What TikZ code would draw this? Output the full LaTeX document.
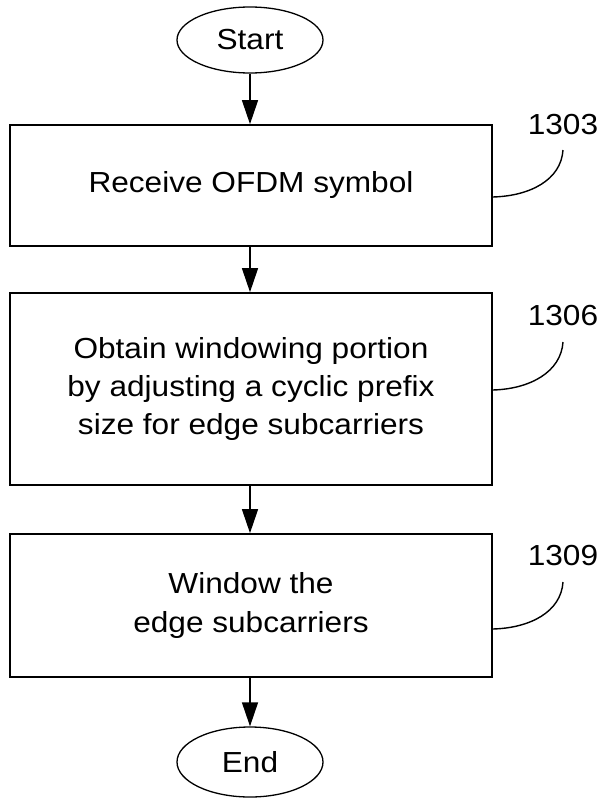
\documentclass[tikz,border=0pt]{standalone}
\usepackage{fontspec}
\setmainfont[FakeStretch=1.09]{Liberation Sans}
\usetikzlibrary{shapes.geometric,arrows.meta}
\begin{document}
\begin{tikzpicture}[x=1pt,y=-1pt,
  every node/.style={font=\fontsize{29}{38.3}\selectfont},
  stepbox/.style={draw,line width=1.7pt,minimum width=482pt,align=center,inner sep=0pt},
  term/.style={draw,ellipse,line width=1.3pt,minimum width=146pt,inner sep=0pt},
  flow/.style={line width=1.3pt,-{Triangle[length=24pt,width=16pt]}},
  leader/.style={line width=1.4pt},
  reflabel/.style={anchor=center}]
\useasboundingbox (0,0) rectangle (600,800);
\node[term,minimum height=66pt] (start) at (250,40) {Start};
\node[stepbox,minimum height=121pt] (b1) at (251,185.5) {Receive OFDM symbol};
\node[stepbox,minimum height=192pt] (b2) at (251,389) {\raisebox{-6pt}{\begin{tabular}{@{}c@{}}Obtain windowing portion\\by adjusting a cyclic prefix\\size for edge subcarriers\end{tabular}}};
\node[stepbox,minimum height=143pt] (b3) at (251,605.5) {Window the\\edge subcarriers};
\node[term,minimum height=70pt] (end) at (250,762) {End};
\draw[flow] (start) -- (start |- b1.north);
\draw[flow] (start |- b1.south) -- (start |- b2.north);
\draw[flow] (start |- b2.south) -- (start |- b3.north);
\draw[flow] (start |- b3.south) -- (end);
\node[reflabel] (l1) at (563,125) {1303};
\node[reflabel] (l2) at (563,316) {1306};
\node[reflabel] (l3) at (563,556) {1309};
\coordinate (c1) at (b1.east |- 0,197);
\coordinate (c2) at (b2.east |- 0,390);
\coordinate (c3) at (b3.east |- 0,629);
\draw[leader] (c1) .. controls (530,196) and (561,180) .. (563,150);
\draw[leader] (c2) .. controls (530,389) and (561,372) .. (563,342);
\draw[leader] (c3) .. controls (530,628) and (561,612) .. (563,582);
\end{tikzpicture}
\end{document}
